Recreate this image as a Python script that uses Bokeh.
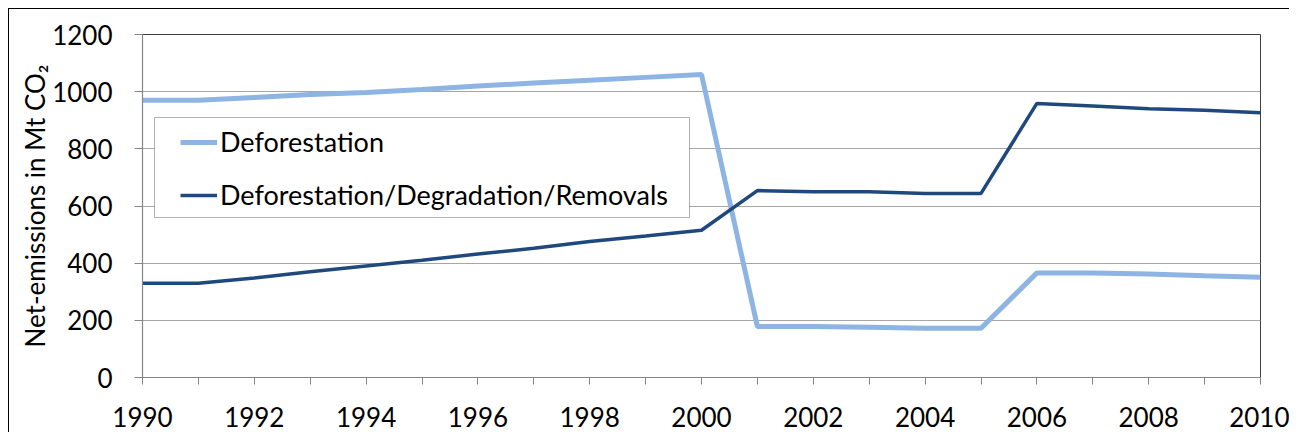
from bokeh.plotting import figure
from bokeh.models import Legend, LegendItem, FixedTicker, BoxAnnotation
from bokeh.embed import file_html
from bokeh.resources import INLINE

years = list(range(1990, 2011))
deforestation = [970, 970, 980, 990, 997, 1008, 1020, 1030, 1040, 1050, 1060,
                 178, 178, 176, 172, 172, 366, 366, 362, 356, 351]
def_deg_rem = [330, 330, 348, 370, 390, 410, 432, 452, 476, 495, 515,
               654, 650, 650, 644, 644, 959, 950, 940, 935, 926]
series_names = ["Deforestation", "Deforestation/Degradation/Removals"]
y_ticks = [0, 200, 400, 600, 800, 1000, 1200]
x_label_years = list(range(1990, 2011, 2))

FONT = "Lato"

p = figure(width=1281, height=424, output_backend="svg", toolbar_location=None,
           x_range=(1990, 2010), y_range=(0, 1200),
           min_border_left=133, min_border_top=25, min_border_right=30, min_border_bottom=56)
p.margin = (8, 0, 0, 8)
p.styles = {"border-top": "1px solid #000", "border-left": "1px solid #000"}

p.outline_line_color = "#404040"
p.outline_line_width = 1
p.background_fill_color = "white"
p.border_fill_color = "white"

l1 = p.line(years, deforestation, line_color="#8DB4E2", line_width=5)
l2 = p.line(years, def_deg_rem, line_color="#1F497D", line_width=3.5)

p.xgrid.visible = False
p.ygrid.ticker = FixedTicker(ticks=y_ticks)
p.ygrid.grid_line_color = "#A6A6A6"
p.ygrid.grid_line_width = 1

p.xaxis.ticker = FixedTicker(ticks=years)
p.xaxis.major_label_overrides = {y: (str(y) if y in x_label_years else "") for y in years}
p.yaxis.ticker = FixedTicker(ticks=y_ticks)

for ax in (p.xaxis[0], p.yaxis[0]):
    ax.axis_line_color = "#868686"
    ax.axis_line_width = 1.2
    ax.major_tick_line_color = "#868686"
    ax.major_tick_in = 0
    ax.minor_tick_line_color = None
    ax.major_label_text_font = FONT
    ax.major_label_text_font_size = "26px"
    ax.major_label_text_color = "#000000"

p.xaxis.major_tick_out = 7
p.xaxis.major_label_standoff = 22
p.yaxis.major_tick_out = 8
p.yaxis.major_label_standoff = 22

p.yaxis.axis_label = "Net-emissions in Mt CO\u2082"
p.yaxis.axis_label_text_font = FONT
p.yaxis.axis_label_text_font_size = "26px"
p.yaxis.axis_label_text_font_style = "normal"
p.yaxis.axis_label_text_color = "#000000"
p.yaxis.axis_label_standoff = -2

legend = Legend(items=[LegendItem(label=series_names[0], renderers=[l1]),
                       LegendItem(label=series_names[1], renderers=[l2])],
                location=(38, 166), orientation="vertical",
                border_line_color=None, background_fill_alpha=0,
                padding=10, margin=0, spacing=20,
                glyph_width=37, glyph_height=30, label_height=30,
                label_standoff=3,
                label_text_font=FONT, label_text_font_size="27px",
                label_text_color="#000000")
p.add_layout(legend, "center")

box = BoxAnnotation(left=12, right=547, bottom=160, top=260,
                    left_units="screen", right_units="screen",
                    bottom_units="screen", top_units="screen",
                    fill_color="white", fill_alpha=1.0,
                    line_color="#000000", line_width=1, level="overlay")
p.add_layout(box)

open("out.html", "w").write(file_html(p, INLINE))
